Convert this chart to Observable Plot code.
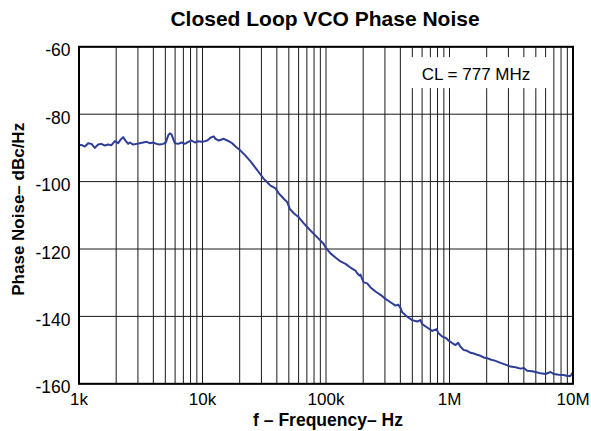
<!DOCTYPE html>
<html><head><meta charset="utf-8">
<script src="https://cdn.jsdelivr.net/npm/d3@7"></script>
<script src="https://cdn.jsdelivr.net/npm/@observablehq/plot@0.6"></script>
<style>
body{margin:0;background:#fff;font-family:"Liberation Sans",Arial,sans-serif;}
#title{height:37px;line-height:37px;font-size:21px;font-weight:bold;text-align:center;padding-left:78px;padding-right:19px;color:#000;}
</style></head><body>
<div id="title">Closed Loop VCO Phase Noise</div>
<div id="chart"></div>
<script>
const freq = [1000,1047,1114,1187,1262,1343,1429,1521,1618,1722,1833,1950,2075,2167,2278,2395,2502,2578,2745,2922,3107,3308,3521,3745,3987,4244,4510,4805,5047,5277,5437,5610,5791,5970,6355,6761,7194,7663,8151,8672,9230,9820,10440,10910,11610,12340,12730,13550,14870,15840,17380,18490,20300,22290,24470,26860,29490,31350,33420,35540,39010,41490,45540,48500,50920,54860,60200,66090,72540,79620,87400,95930,99060,108700,119300,131000,143800,157800,173200,178900,186700,190200,196100,202300,215600,229300,251700,276300,303300,332900,365400,384400,401100,414000,454300,498800,547500,582200,600700,659500,723900,785100,818900,872700,937000,986000,1051000,1119000,1175000,1227000,1306000,1391000,1480000,1575000,1676000,1784000,1897000,2020000,2148000,2357000,2587000,2840000,3117000,3421000,3755000,3997000,4254000,4671000,4971000,5457000,5989000,6575000,6998000,7680000,8432000,8974000,9550000,9845000];
const phaseNoise = [-89.3,-89.1,-89.6,-88.6,-88.8,-90.0,-89.0,-88.8,-89.3,-89.0,-89.2,-88.0,-88.6,-87.6,-86.8,-88.0,-88.8,-88.4,-89.0,-88.8,-88.6,-88.4,-88.2,-88.6,-88.4,-88.8,-89.0,-88.8,-88.4,-86.3,-85.7,-86.0,-87.3,-88.6,-88.8,-88.4,-88.8,-88.2,-87.8,-88.4,-88.0,-88.2,-88.0,-87.8,-87.0,-86.6,-87.3,-87.8,-87.3,-87.8,-88.6,-89.6,-90.8,-92.3,-94.0,-95.9,-97.9,-99.2,-100.2,-101.2,-102.0,-103.5,-105.1,-106.1,-108.1,-109.4,-110.6,-112.4,-114.0,-115.5,-117.0,-118.5,-119.5,-121.3,-122.5,-123.7,-124.4,-125.5,-126.4,-127.2,-127.9,-127.6,-128.9,-129.9,-130.2,-131.4,-132.6,-133.6,-134.8,-135.8,-136.8,-136.5,-137.5,-138.8,-140.1,-141.1,-141.5,-141.1,-142.3,-143.3,-144.3,-143.8,-145.1,-146.0,-146.4,-147.2,-147.9,-148.5,-147.8,-149.0,-150.0,-150.2,-150.8,-151.0,-151.4,-151.7,-152.2,-152.4,-152.8,-153.2,-153.8,-154.3,-154.9,-155.1,-155.5,-155.3,-156.1,-156.3,-156.5,-156.9,-157.1,-156.5,-157.1,-157.3,-157.4,-157.7,-157.7,-156.9];
const xTicks = [1e3, 1e4, 1e5, 1e6, 1e7];
const xTickLabels = ["1k", "10k", "100k", "1M", "10M"];
const yTicks = [-160, -140, -120, -100, -80, -60];
const xLabel = "f \u2013 Frequency\u2013 Hz";
const yLabel = "Phase Noise\u2013 dBc/Hz";
const noteText = "CL = 777 MHz";
const noteBox = {x1: 4.57e5, x2: 6.46e6, y1: -63.2, y2: -72.4, xc: 1.64e6, yc: -68.1};

const data = freq.map((f, i) => ({f, pn: phaseNoise[i]}));
const gridFreqs = [];
for (let d = 3; d < 7; d++) for (let m = 1; m < 10; m++) gridFreqs.push(m * 10 ** d);
gridFreqs.push(1e7);

const plot = Plot.plot({
  width: 591, height: 394,
  marginTop: 9.3, marginBottom: 47.7, marginLeft: 78.5, marginRight: 18.5,
  style: {fontFamily: "Liberation Sans, Arial, sans-serif", fontSize: "17px", color: "#000", background: "#fff"},
  x: {type: "log", domain: [1e3, 1e7]},
  y: {domain: [-160, -60]},
  marks: [
    Plot.ruleX(gridFreqs, {stroke: "#1a1a1a", strokeWidth: 1}),
    Plot.ruleY(yTicks, {stroke: "#1a1a1a", strokeWidth: 1}),
    Plot.rect([noteBox], {x1: "x1", x2: "x2", y1: "y1", y2: "y2", fill: "white"}),
    Plot.text([noteBox], {x: "xc", y: "yc", text: () => noteText, fontSize: 17, fill: "#000"}),
    Plot.line(data, {x: "f", y: "pn", stroke: "#2e3d98", strokeWidth: 2}),
    Plot.frame({stroke: "#000", strokeWidth: 2}),
    Plot.axisX(xTicks, {tickSize: 0, tickPadding: 9, tickFormat: d => xTickLabels[xTicks.indexOf(d)], label: null, fontSize: 17, fill: "#000"}),
    Plot.axisY(yTicks, {tickSize: 0, tickPadding: 8.5, dy: 4, tickFormat: d => String(d), label: null, fontSize: 17.5, fill: "#000"}),
    Plot.text([xLabel], {frameAnchor: "bottom", lineAnchor: "bottom", dy: 41.7, dx: 2, text: d => d, fontWeight: "bold", fontSize: 17.5, fill: "#000"}),
    Plot.text([yLabel], {frameAnchor: "left", rotate: -90, dx: -60, dy: -6, text: d => d, textAnchor: "middle", lineAnchor: "middle", fontWeight: "bold", fontSize: 17, fill: "#000"})
  ]
});
document.getElementById("chart").appendChild(plot);
</script>
</body></html>
